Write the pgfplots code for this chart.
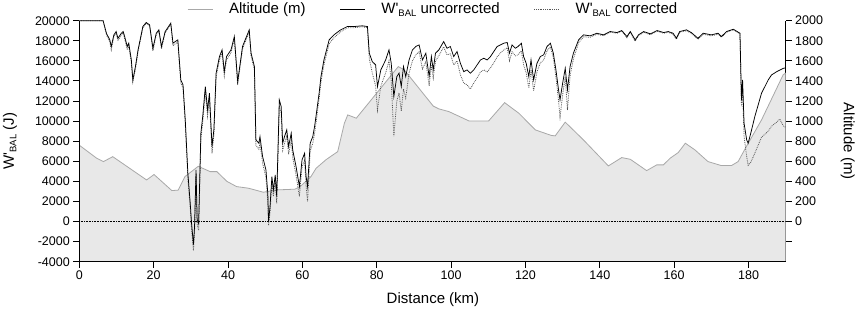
\documentclass[border=0pt]{standalone}
\usepackage{fontspec}
\setmainfont{Liberation Sans}
\usepackage{pgfplots}
\usepackage{pgfplotstable}
\pgfplotsset{compat=1.18}

\definecolor{altline}{RGB}{168,168,168}
\definecolor{altfill}{RGB}{232,232,232}
\definecolor{corrcol}{RGB}{85,85,85}

\newcommand\Wbal{W\textquotesingle\raisebox{-0.3ex}{\fontsize{9.5}{10}\selectfont BAL}}

% altitude profile (km, m)
\pgfplotstableread{
km alt
0 760
4.7 630
6.5 597
9.0 646
18.1 414
20.1 468
24.9 308
26.6 313
28.4 447
32.0 550
35.2 497
37.0 497
39.7 400
42.3 348
45.5 332
49.5 292
53.1 315
58.0 322
59.4 348
62.3 447
63.7 531
66.4 617
69.5 696
71.3 979
72.2 1062
74.5 1029
85.8 1543
87.4 1510
95.2 1150
96.7 1122
99.4 1095
104.8 1002
110.1 1002
114.4 1184
118.2 1079
122.7 912
126.9 858
128.0 853
130.7 990
135.6 813
142.3 554
145.9 637
148.2 620
152.6 507
155.3 564
157.1 564
158.9 630
161.1 687
163.0 780
165.6 713
169.1 597
172.7 557
175.4 557
177.2 597
179.4 746
183.5 1012
189.3 1460
190 1480
}\altdata

% W'bal uncorrected (km, J)
\pgfplotstableread{
km w
0 20000
6.4 20000
7.3 18750
8.2 18090
8.6 17430
9.3 18590
9.9 18920
10.4 18250
11.3 18750
11.8 18920
12.2 18420
12.9 17430
13.3 17760
14.0 16090
14.4 14100
15.1 15430
15.8 17090
17.1 19420
18.0 19820
18.9 19590
19.8 17260
20.7 18750
21.4 19090
22.1 17430
23.1 18920
24.6 19750
25.2 17760
25.8 17920
26.5 18090
27.3 14100
27.9 13610
28.5 10120
29.2 4810
29.8 2000
30.2 -170
30.7 -2300
31.0 -500
31.4 5140
31.7 160
32.1 -200
32.7 8800
33.2 10460
33.9 13440
34.5 11120
35.0 12780
35.7 7470
36.2 9130
36.8 14770
37.7 16430
38.4 17090
39.0 14930
39.6 16430
40.8 17090
41.7 18420
42.6 13940
43.9 17430
45.7 19080
46.2 16760
47.1 15430
47.5 8130
48.3 7800
48.6 8460
49.3 6470
50.2 5140
50.7 2810
50.9 0
51.3 1490
51.8 4480
52.2 3150
52.7 4640
53.1 2480
53.8 12110
54.3 11450
54.7 7800
55.2 8460
55.8 9130
56.3 7470
57.0 8790
57.4 7130
58.3 5470
59.2 3480
59.9 6130
60.6 6800
61.0 4480
61.4 3480
62.1 7800
62.8 8460
63.3 9500
63.9 11120
64.5 12780
65.0 14430
65.8 16090
67.2 18090
68.5 18590
70.3 19090
72.1 19420
73.9 19420
76.1 19490
77.5 19420
78.0 16760
78.8 15930
79.7 15600
80.2 13440
81.1 15100
82.4 16090
83.3 17090
83.9 15760
84.6 12450
85.4 14430
86.0 14770
86.6 13440
87.2 15430
87.8 14430
88.7 16090
89.6 17090
90.5 17430
91.4 17590
92.3 16090
93.2 16760
94.1 14430
94.7 16430
95.2 15100
95.8 16760
96.7 17090
98.0 17920
98.9 17260
99.8 17430
100.7 16430
101.6 16930
102.5 15760
103.4 14930
104.3 15100
105.2 14770
106.1 15100
107.0 15600
107.9 16090
108.8 16260
109.7 16090
110.6 16430
111.5 16930
112.4 17430
113.3 17590
114.2 17760
115.1 17830
115.7 16760
116.4 17590
117.3 17260
118.0 17430
118.9 17760
119.5 16430
120.2 15760
120.9 14430
121.5 16090
122.2 14100
123.1 15760
124.0 16430
124.9 16600
125.8 17430
126.7 17760
127.5 16760
128.2 15100
128.9 13110
129.3 12110
130.0 13770
130.7 15260
131.3 13110
132.0 15430
132.9 16760
134.3 18090
135.6 18590
137.4 18490
139.2 18750
141.0 18590
142.8 18920
144.6 18820
145.9 19020
147.3 18420
148.2 18920
149.5 18090
150.4 18590
151.8 18920
153.6 18690
155.4 19020
157.2 18820
158.4 18920
159.7 18750
160.6 18250
161.5 18920
163.3 19090
164.6 18820
166.4 18250
167.8 18750
170.0 18590
171.8 18750
172.7 18420
174.1 18920
175.9 19150
177.7 18750
178.1 12110
178.4 14100
178.8 9790
179.5 8130
179.9 7800
180.6 8790
181.7 10460
183.5 12780
185.3 14100
186.2 14600
187.6 14930
189.4 15260
190 15300
}\wunc

% W'bal corrected (km, J)
\pgfplotstableread{
km w
0 20000
6.4 20000
7.3 18600
8.2 17900
8.6 17100
9.3 18400
9.9 18800
10.4 18000
11.3 18600
11.8 18800
12.2 18200
12.9 17100
13.3 17500
14.0 15800
14.4 13900
15.1 15200
15.8 16900
17.1 19300
18.0 19750
18.9 19500
19.8 17000
20.7 18600
21.4 18950
22.1 17200
23.1 18800
24.6 19650
25.2 17500
25.8 17700
26.5 17900
27.3 13800
27.9 13300
28.5 9800
29.2 4300
29.8 1500
30.2 -800
30.7 -2900
31.0 -1000
31.4 4800
31.7 -300
32.1 -900
32.7 8200
33.2 9900
33.9 12900
34.5 10500
35.0 12200
35.7 6800
36.2 8600
36.8 14400
37.7 16100
38.4 16800
39.0 14500
39.6 16100
40.8 16800
41.7 18200
42.6 13600
43.9 17200
45.7 18900
46.2 16500
47.1 15100
47.5 7600
48.3 7200
48.6 7900
49.3 5800
50.2 4400
50.7 2000
50.9 -400
51.3 900
51.8 3900
52.2 2500
52.7 4000
53.1 1800
53.8 11500
54.3 10800
54.7 7100
55.2 7800
55.8 8500
56.3 6700
57.0 8100
57.4 6400
58.3 4600
59.2 2500
59.9 5400
60.6 6100
61.0 3500
61.4 2000
62.1 7000
62.8 7800
63.3 8800
63.9 10500
64.5 12200
65.0 13900
65.8 15600
67.2 17700
68.5 18300
70.3 18900
72.1 19300
73.9 19300
76.1 19400
77.5 19300
78.0 16200
78.8 14800
79.7 13500
80.2 11100
81.1 13500
82.4 14800
83.3 16000
83.9 14000
84.6 8500
85.4 12000
86.0 12800
86.6 11000
87.2 13200
87.8 12300
88.7 14800
89.6 16000
90.5 16600
91.4 16900
92.3 15200
93.2 15900
94.1 13500
94.7 15600
95.2 14300
95.8 16000
96.7 16500
98.0 17400
98.9 16600
99.8 16700
100.7 15600
101.6 16000
102.5 14600
103.4 13800
104.3 13600
105.2 13200
106.1 13800
107.0 14300
107.9 14900
108.8 15100
109.7 14900
110.6 15300
111.5 15800
112.4 16400
113.3 16800
114.2 17100
115.1 17300
115.7 16000
116.4 16900
117.3 16500
118.0 16600
118.9 17000
119.5 15600
120.2 14800
120.9 13300
121.5 15100
122.2 13000
123.1 14900
124.0 15800
124.9 16100
125.8 17000
126.7 17400
127.5 16300
128.2 14400
128.9 12000
129.3 10400
130.0 12600
130.7 14400
131.3 11100
132.0 14500
132.9 16200
134.3 17800
135.6 18400
137.4 18350
139.2 18650
141.0 18500
142.8 18850
144.6 18750
145.9 18950
147.3 18300
148.2 18850
149.5 17950
150.4 18500
151.8 18850
153.6 18600
155.4 18950
157.2 18750
158.4 18850
159.7 18650
160.6 18150
161.5 18850
163.3 19000
164.6 18750
166.4 18150
167.8 18650
170.0 18500
171.8 18650
172.7 18350
174.1 18850
175.9 19100
177.7 18700
178.1 11500
178.4 13000
178.8 8500
179.5 6500
179.9 5600
180.6 5900
181.7 6800
183.5 8400
185.3 9000
186.2 9500
187.6 9900
188.4 10200
189.4 9500
190 9400
}\wcor

\pgfplotsset{
  base/.style={
    scale only axis, width=706.4pt, height=241pt,
    xmin=0, xmax=190,
    tick align=outside, major tick length=6pt,
    axis line style={line width=1.1pt},
    tick style={line width=1pt, black},
    tick label style={font=\fontsize{12.5}{14}\selectfont},
    label style={font=\fontsize{15}{17}\selectfont},
    scaled y ticks=false, scaled x ticks=false,
    /pgf/number format/assume math mode=true,
    /pgf/number format/1000 sep={},
  },
}

\begin{document}
\begin{tikzpicture}
% altitude on the right axis, drawn first so it sits beneath
\begin{axis}[base,
  ymin=-400, ymax=2000,
  hide x axis,
  axis y line*=right,
  ytick={0,200,...,2000},
  extra y ticks={-200}, extra y tick labels={},
  ylabel={Altitude (m)},
  ylabel style={at={(axis description cs:1.088,0.5)}, anchor=center, rotate=180},
]
\addplot[draw=none, fill=altfill] table[x=km, y=alt] {\altdata} |- (axis cs:0,-400) -- cycle;
\addplot[altline, line width=0.8pt] table[x=km, y=alt] {\altdata};
\end{axis}

\begin{axis}[base,
  ymin=-4000, ymax=20000,
  axis x line*=bottom, axis y line*=left,
  xtick={0,20,...,180},
  ytick={-4000,-2000,...,20000},
  xlabel={Distance (km)},
  ylabel={\Wbal{} (J)},
  xlabel style={at={(axis description cs:0.5007,-0.159)}, anchor=center},
  ylabel style={at={(axis description cs:-0.098,0.5)}, anchor=center},
  legend columns=3,
  legend style={draw=none, fill=none, inner sep=0pt,
    font=\fontsize{15}{17}\selectfont,
    at={(axis description cs:0.1525,1.0485)}, anchor=west,
    /tikz/every odd column/.append style={column sep=14pt},
    /tikz/every even column/.append style={column sep=32pt}},
  legend image code/.code={\draw[#1] (0pt,0pt) -- (25pt,0pt);},
]
\addlegendimage{altline, line width=0.8pt}
\addlegendentry{Altitude (m)}
\addplot[black, densely dotted, line width=0.6pt, forget plot] coordinates {(0,0) (190,0)};
\addplot[corrcol, densely dotted, line width=0.8pt, forget plot] table[x=km, y=w] {\wcor};
\addplot[black, line width=0.75pt] table[x=km, y=w] {\wunc};
\addlegendentry{\Wbal{} uncorrected}
\addlegendimage{corrcol, densely dotted, line width=0.8pt}
\addlegendentry{\Wbal{} corrected}
\end{axis}
\pgfresetboundingbox
\path (-79.3pt,-51.3pt) rectangle (776.7pt,261.7pt);
\end{tikzpicture}
\end{document}
